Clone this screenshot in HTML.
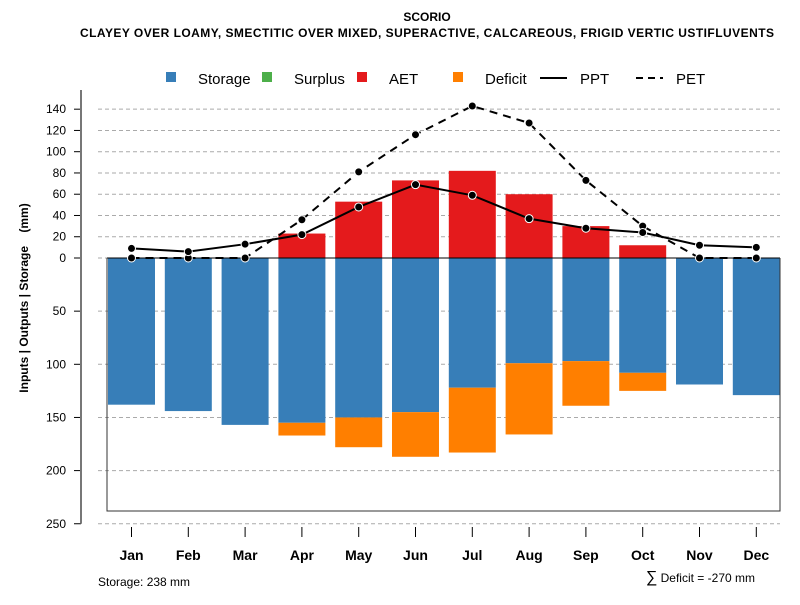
<!DOCTYPE html>
<html><head><meta charset="utf-8"><style>
body{margin:0;background:#fff}
svg{font-family:"Liberation Sans",Arial,sans-serif}
</style></head><body>
<svg id="c" width="800" height="600" viewBox="0 0 800 600">
<text x="427" y="21" text-anchor="middle" font-size="12" font-weight="bold">SCORIO</text>
<text x="427" y="37" text-anchor="middle" font-size="12" font-weight="bold" textLength="694">CLAYEY OVER LOAMY, SMECTITIC OVER MIXED, SUPERACTIVE, CALCAREOUS, FRIGID VERTIC USTIFLUVENTS</text>
<g id="legend" font-size="15">
<rect x="166" y="72" width="10" height="10" fill="#377eb8"/>
<text x="198" y="84">Storage</text>
<rect x="262" y="72" width="10" height="10" fill="#4daf4a"/>
<text x="294" y="84">Surplus</text>
<rect x="357" y="72" width="10" height="10" fill="#e41a1c"/>
<text x="389" y="84">AET</text>
<rect x="453" y="72" width="10" height="10" fill="#ff7f00"/>
<text x="485" y="84">Deficit</text>
<line x1="540" y1="78" x2="567" y2="78" stroke="#000" stroke-width="2"/>
<text x="580" y="84">PPT</text>
<line x1="636" y1="78" x2="663" y2="78" stroke="#000" stroke-width="2" stroke-dasharray="7,5"/>
<text x="676" y="84">PET</text>
</g>
<text transform="translate(28,298) rotate(-90)" text-anchor="middle" font-size="12" font-weight="bold" style="white-space:pre">Inputs | Outputs | Storage    (mm)</text>
<text x="98" y="586" font-size="12">Storage: 238 mm</text>
<text x="755" y="582" text-anchor="end" font-size="12"><tspan font-size="16">∑</tspan> Deficit = -270 mm</text>
<g id="grid"></g><g id="bars"></g><g id="lines"></g><g id="axes"></g>
</svg>
<script>
const months=["Jan","Feb","Mar","Apr","May","Jun","Jul","Aug","Sep","Oct","Nov","Dec"];
const storage=[138,144,157,155,150,145,122,99,97,108,119,129];
const deficit=[0,0,0,12,28,42,61,67,42,17,0,0];
const aet=[0,0,0,23,53,73,82,60,30,12,0,0];
const ppt=[9,6,13,22,48,69,59,37,28,24,12,10];
const pet=[0,0,0,36,81,116,143,127,73,30,0,0];
const upTicks=[0,20,40,60,80,100,120,140];
const downTicks=[50,100,150,200,250];
const storageCap=238;
const NS="http://www.w3.org/2000/svg";
const y0=258,k=1.063;
const Y=v=>y0-v*k;
const X=i=>131.5+i*56.8;
const bw=47;
function mk(tag,attrs,parent){const e=document.createElementNS(NS,tag);for(const a in attrs)e.setAttribute(a,attrs[a]);document.getElementById(parent).appendChild(e);return e;}
upTicks.concat(downTicks.map(v=>-v)).forEach(v=>{
 const g=mk('line',{x1:98,x2:780,y1:Y(v),y2:Y(v),stroke:'#aaa','stroke-dasharray':'4,3'},'grid');
 
 
 const t=mk('line',{x1:74,x2:81,y1:Y(v),y2:Y(v),stroke:'#000'},'axes');
 
 
 const l=mk('text',{x:66,y:Y(v)+4,'text-anchor':'end','font-size':12},'axes');
 l.textContent=Math.abs(v);
 
 
});
const ax=mk('line',{x1:81,x2:81,y1:90,y2:Y(-250),stroke:'#777','stroke-width':2},'axes');


const box=mk('path',{d:`M107,${y0}V${Y(-storageCap)}H780V${y0}`,fill:'none',stroke:'#333'},'axes');


months.forEach((m,i)=>{
 const s=mk('rect',{x:X(i)-bw/2,y:y0,width:bw,height:storage[i]*k,fill:'#377eb8'},'bars');
 
 
 if(deficit[i]>0){const d=mk('rect',{x:X(i)-bw/2,y:Y(-storage[i]),width:bw,height:deficit[i]*k,fill:'#ff7f00'},'bars');
 
 }
 if(aet[i]>0){const a=mk('rect',{x:X(i)-bw/2,y:Y(aet[i]),width:bw,height:aet[i]*k,fill:'#e41a1c'},'bars');
 
 }
 const t=mk('line',{x1:X(i),x2:X(i),y1:527,y2:537,stroke:'#000'},'axes');
 
 
 const l=mk('text',{x:X(i),y:560,'text-anchor':'middle','font-size':14,'font-weight':'bold'},'axes');
 l.textContent=m;
 
 
});
const zl=mk('line',{x1:107,x2:780,y1:y0,y2:y0,stroke:'#000'},'bars');


function series(arr,name,dash){
 const p=mk('polyline',{points:arr.map((v,i)=>X(i)+','+Y(v)).join(' '),fill:'none',stroke:'#000','stroke-width':2,'stroke-dasharray':dash},'lines');
 
 
 arr.forEach((v,i)=>{const c=mk('circle',{cx:X(i),cy:Y(v),r:4,fill:'#000',stroke:'#fff','stroke-width':1},'lines');
 
 });
}
series(pet,'pet','8,6');
series(ppt,'ppt','none');
</script>
</body></html>
